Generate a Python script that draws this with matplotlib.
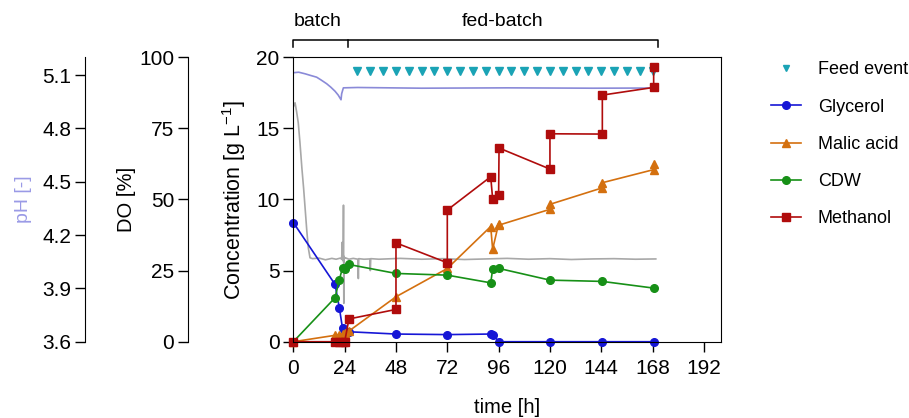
import matplotlib.pyplot as plt

plt.rcParams['font.family'] = ['Liberation Sans', 'DejaVu Sans']
plt.rcParams['font.size'] = 15

# offline samples [g/L]
t_gly = [0, 19.5, 21.5, 23, 24, 26, 48, 72, 92.3, 93.2, 96.2, 120, 144.5, 168.5]
glycerol = [8.38, 4.03, 2.40, 0.94, 0.75, 0.70, 0.54, 0.50, 0.54, 0.50, 0.0, 0.0, 0.0, 0.0]

t_mal = [0, 19.5, 21.5, 23, 24, 26, 48, 72, 92.3, 93.2, 96, 96.2, 120, 120, 144.5, 144.5, 168.5, 168.5]
malic = [0, 0.45, 0.50, 0.55, 0.60, 0.75, 3.16, 5.15, 8.10, 6.50, 8.30, 8.20, 9.31, 9.66, 10.82, 11.18, 12.10, 12.47]

t_cdw = [0, 19.5, 21.5, 23, 24, 26, 48, 72, 92.3, 93.2, 96.2, 120, 144.5, 168.5]
cdw = [0, 3.09, 4.35, 5.20, 5.12, 5.43, 4.80, 4.68, 4.14, 5.08, 5.15, 4.33, 4.24, 3.77]

t_meoh = [0, 19.5, 21.5, 23, 24, 26, 48, 48, 72, 72, 92.3, 93.2, 96, 96.2, 120, 120, 144.5, 144.5, 168.5, 168.5]
methanol = [0, 0, 0, 0, 0, 1.60, 2.27, 6.95, 5.55, 9.26, 11.60, 10.05, 10.34, 13.62, 12.14, 14.62, 14.60, 17.34, 17.88, 19.35]

# feed events [h]
t_feed = [30, 36, 42, 48, 54, 60, 66, 72, 78, 84, 90, 96, 102, 108, 114, 120,
          126, 132, 138, 144, 150, 156, 162, 168]
feed_level = 19.0

# online signals
t_ph = [0, 2.5, 5.5, 8, 10.9, 13, 15.6, 17.5, 19.5, 21, 22.3, 22.6, 23.4, 30, 60, 100, 140, 169.5]
ph = [5.113, 5.116, 5.107, 5.098, 5.088, 5.072, 5.051, 5.032, 5.009, 4.987, 4.961, 4.995,
      5.028, 5.030, 5.026, 5.028, 5.026, 5.027]

t_do = [0, 0.8, 1.5, 2.3, 3.1, 4.0, 4.8, 5.5, 6.3, 7.0, 7.8, 9, 12, 15, 18, 20, 22.0, 22.6,
        22.9, 23.1, 23.3, 23.45, 23.6, 23.75, 23.9, 24.3, 26, 28, 30.2, 30.4, 30.6, 33, 35.8,
        36.0, 36.2, 40, 50, 60, 70, 80, 90, 100, 110, 120, 130, 140, 150, 160, 169.5]
do = [82.5, 84, 81, 77, 70, 61, 54, 47, 39, 33, 29.5, 29.2, 29.4, 28.8, 29.3, 29.0, 29.4, 29.0,
      35, 28.5, 30, 48, 13.5, 30, 29.2, 29.5, 29.0, 29.3, 29.0, 22.2, 29.2, 29.0, 29.1,
      25, 29.2, 29.0, 29.3, 29.0, 29.2, 28.9, 29.1, 29.3, 29.0, 29.2, 28.9, 29.1, 29.2, 29.0, 29.1]

rect = [0.3227, 0.1825, 0.4705, 0.6805]
fig = plt.figure(figsize=(9.09, 4.18), dpi=100)

ph_col = '#8a8ad8'
do_col = '#a8a8a8'


def side_axis(offset):
    a = fig.add_axes(rect, facecolor='none')
    for s in ['top', 'right', 'bottom']:
        a.spines[s].set_visible(False)
    a.spines['left'].set_position(('outward', offset))
    a.xaxis.set_visible(False)
    a.set_xlim(0, 200)
    a.tick_params(axis='y', length=7, width=1, pad=3)
    return a


ax_ph = side_axis(150)
ax_ph.plot(t_ph, ph, color=ph_col, lw=1.2)
ax_ph.set_ylim(3.6, 5.2)
ax_ph.set_yticks([3.6, 3.9, 4.2, 4.5, 4.8, 5.1])
ax_ph.set_ylabel('pH [-]', color='#9a9ae6', fontsize=14)
ax_ph.yaxis.set_label_coords(-0.612, 0.5)

ax_do = side_axis(75.8)
ax_do.plot(t_do, do, color=do_col, lw=1.2)
ax_do.set_ylim(0, 100)
ax_do.set_yticks([0, 25, 50, 75, 100])
ax_do.set_ylabel('DO [%]', fontsize=14.5)
ax_do.yaxis.set_label_coords(-0.368, 0.5)

ax = fig.add_axes(rect, facecolor='none')
kw = dict(lw=1.2, clip_on=False)
ax.plot(t_feed, [feed_level] * len(t_feed), 'v', color='#1aa3b5', ms=5.5, ls='none',
        label='Feed event', clip_on=False)
ax.plot(t_gly, glycerol, '-o', color='#1616d6', ms=5.5, label='Glycerol', **kw)
ax.plot(t_mal, malic, '-^', color='#d4700f', ms=6, label='Malic acid', **kw)
ax.plot(t_cdw, cdw, '-o', color='#179017', ms=5.5, label='CDW', **kw)
ax.plot(t_meoh, methanol, '-s', color='#b00c0c', ms=5.5, label='Methanol', **kw)

ax.set_xlim(0, 200)
ax.set_ylim(0, 20)
ax.set_xticks(range(0, 193, 24))
ax.set_yticks([0, 5, 10, 15, 20])
ax.tick_params(length=7, width=1, pad=3)
ax.tick_params(axis='x', length=7.5, pad=5)
ax.set_xlabel('time [h]', fontsize=14.5, labelpad=14)
ax.set_ylabel('Concentration [g L$^{\\mathregular{-1}}$]', fontsize=15.5)
ax.yaxis.set_label_coords(-0.106, 0.5)

# batch / fed-batch bracket
tr = ax.get_xaxis_transform()
ax.plot([0, 0, 170.5, 170.5], [1.037, 1.061, 1.061, 1.037], color='black', lw=1.1,
        transform=tr, clip_on=False)
ax.plot([25.7, 25.7], [1.037, 1.061], color='black', lw=1.1, transform=tr, clip_on=False)
ax.text(0, 1.095, 'batch', transform=tr, ha='left', va='bottom', fontsize=14)
ax.text(98, 1.095, 'fed-batch', transform=tr, ha='center', va='bottom', fontsize=14)

leg = ax.legend(loc='upper left', bbox_to_anchor=(0.848, 0.853), bbox_transform=fig.transFigure,
                frameon=False, borderpad=0, borderaxespad=0, handlelength=1.65,
                handletextpad=0.95, labelspacing=1.12, fontsize=13)
leg.legend_handles[0].set_markersize(4)

fig.savefig('out.png', dpi=100)
